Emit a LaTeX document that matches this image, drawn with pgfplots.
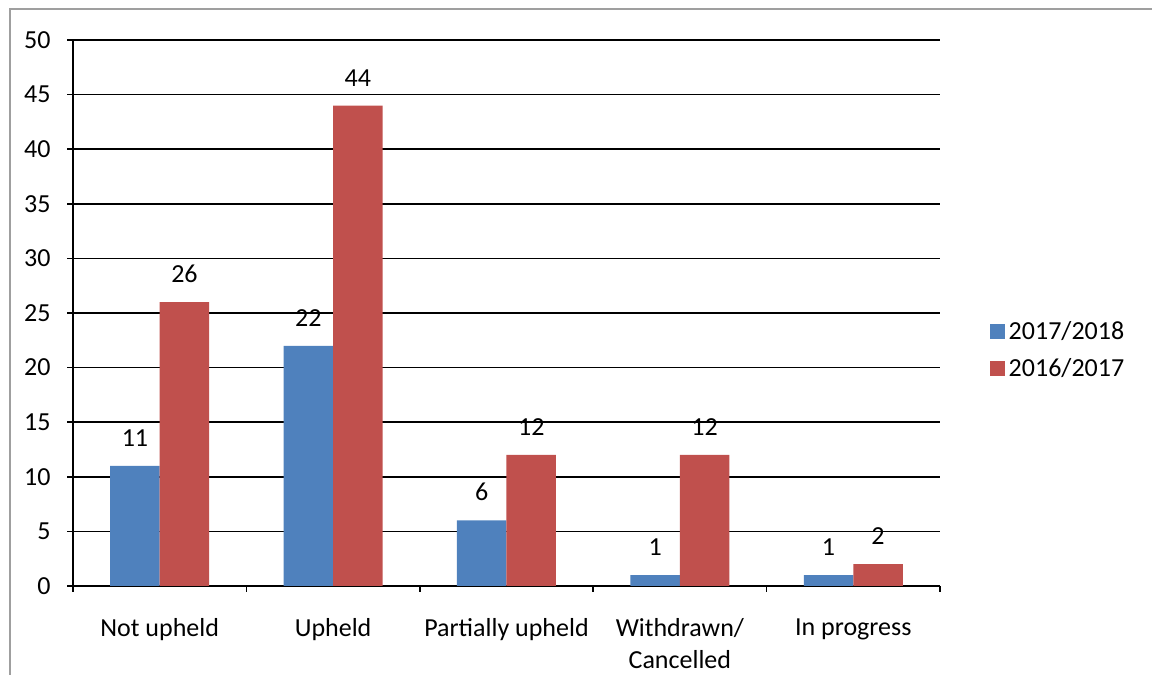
\documentclass[border=0pt]{standalone}
\usepackage{fontspec}
\setmainfont{Carlito}
\usepackage{pgfplots}
\pgfplotsset{compat=1.18}
\definecolor{seriesblue}{HTML}{4F81BD}
\definecolor{seriesred}{HTML}{C0504D}
\newcommand{\chartfont}{\fontsize{13}{16}\selectfont}
\begin{document}
\begin{tikzpicture}[x=1pt,y=1pt]
\useasboundingbox (0,0) rectangle (576,337.5);
% outer frame
\draw[gray!75, line width=1pt] (5,-1) -- (5,333) -- (577,333);
\begin{axis}[
  at={(36.5pt,44.5pt)}, anchor=south west,
  scale only axis, width=433.5pt, height=273pt,
  font=\chartfont,
  ybar=0pt, bar width=24.75pt,
  xmin=-0.5, xmax=4.5, ymin=0, ymax=50,
  ytick={0,5,...,50},
  axis lines*=left,
  axis line style={black, line width=0.8pt},
  ymajorgrids, grid style={black, line width=0.8pt},
  tick style={black, line width=0.8pt},
  major tick length=3pt, tick align=outside,
  /pgf/number format/assume math mode=true,
  tick label style={font=\chartfont},
  yticklabel style={inner sep=0pt, xshift=-8pt},
  xtick={-0.5,0.5,...,4.5}, xticklabels={},
  extra x ticks={0,1,2,3,4},
  extra x tick labels={Not upheld, Upheld, Partially upheld, {Withdrawn/\\Cancelled}, In progress},
  extra x tick style={major tick length=0pt,
    xticklabel style={align=center, anchor=north, inner sep=0pt, yshift=-16pt}},
  nodes near coords,
  every node near coord/.append style={inner sep=0pt, yshift=9.5pt, font=\chartfont, black},
  legend style={at={(1.05,0.432)}, anchor=west, draw=none, fill=none,
    font=\chartfont, row sep=4pt, nodes={inner sep=2pt}},
  legend cell align=left,
  legend image code/.code={\draw[#1, draw=none] (0pt,-3.75pt) rectangle (7.5pt,3.75pt);},
]
\addplot[fill=seriesblue, draw=none] coordinates {(0,11) (1,22) (2,6) (3,1) (4,1)};
\addplot[fill=seriesred, draw=none] coordinates {(0,26) (1,44) (2,12) (3,12) (4,2)};
\legend{2017/2018, 2016/2017}
\end{axis}
\end{tikzpicture}
\end{document}
